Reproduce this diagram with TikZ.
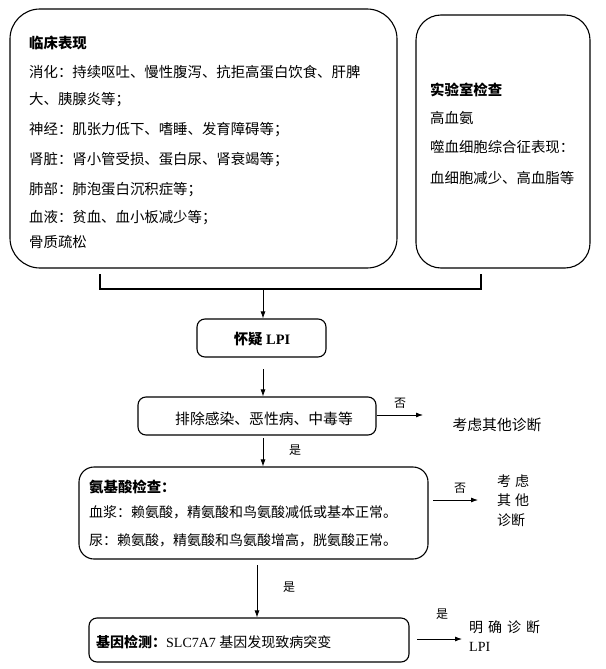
\documentclass[tikz,border=0pt]{standalone}
\usepackage{fontspec}
\setmainfont{Liberation Serif}
\newfontfamily\cjk{Noto Sans CJK SC}
\newfontfamily\lat{Liberation Serif}
\usetikzlibrary{arrows.meta}
\begin{document}
\begin{tikzpicture}[x=1pt,y=-1pt,
  box/.style={draw, line width=1.1pt, rounded corners=#1, inner sep=0pt},
  box/.default=8pt,
  txt/.style={anchor=west, inner sep=0pt, font=\cjk\fontsize{14}{16}\selectfont},
  btxt/.style={anchor=west, inner sep=0pt, font=\cjk\fontsize{14.4}{16}\selectfont},
  hd/.style={anchor=west, inner sep=0pt, font=\cjk\bfseries\fontsize{14.4}{16}\selectfont},
  ctxt/.style={inner sep=0pt, font=\cjk\fontsize{14.8}{17}\selectfont},
  lab/.style={inner sep=0pt, font=\cjk\fontsize{12}{14}\selectfont},
  arr/.style={-{Latex[length=7pt,width=5pt]}, line width=0.8pt},
  bracket/.style={line width=1.8pt}]
\useasboundingbox (0,0) rectangle (605,669);
% clinical box
\node[box=30pt, minimum width=387pt, minimum height=259pt] (clin) at (203.5,138.5) {};
\node[hd] (c0) at (29,43) {临床表现};
\node[btxt] (c1) at (29,72) {消化：持续呕吐、慢性腹泻、抗拒高蛋白饮食、肝脾};
\node[btxt] (c2) at (29,100) {大、胰腺炎等；};
\node[btxt] (c3) at (29,130) {神经：肌张力低下、嗜睡、发育障碍等；};
\node[btxt] (c4) at (29,160) {肾脏：肾小管受损、蛋白尿、肾衰竭等；};
\node[btxt] (c5) at (29,190) {肺部：肺泡蛋白沉积症等；};
\node[btxt] (c6) at (29,218) {血液：贫血、血小板减少等；};
\node[btxt] (c7) at (29,242) {骨质疏松};
% lab box
\node[box=25pt, minimum width=174pt, minimum height=253pt] (lab) at (503,141.5) {};
\node[hd] (l0) at (430,90) {实验室检查};
\node[btxt] (l1) at (430,118) {高血氨};
\node[btxt] (l2) at (430,147) {噬血细胞综合征表现：};
\node[btxt] (l3) at (430,178) {血细胞减少、高血脂等};
% bracket
\coordinate (bl) at (100,274);
\coordinate (br) at (481,274);
\coordinate (bm) at (263,289);
\draw[bracket] (bl) -- (bl |- bm) -- (br |- bm) -- (br);
% LPI
\node[box, minimum width=129pt, minimum height=38pt] (lpi) at (261.5,338) {};
\node[inner sep=0pt, font=\fontsize{14.4}{16}\selectfont] (lpit) at (262,339) {{\cjk\bfseries 怀疑} {\lat\bfseries LPI}};
\draw[arr] (bm) -- (bm |- lpi.north);
% exclusion
\coordinate (a2s) at (263,369);
\node[box, minimum width=238pt, minimum height=38pt] (excl) at (257,416) {};
\node[ctxt] (exclt) at (264,419) {排除感染、恶性病、中毒等};
\draw[arr] (a2s) -- (a2s |- excl.north);
\coordinate (n1) at (423,415);
\draw[arr] (excl.east |- n1) -- (n1);
\node[lab] (no1) at (400,403) {否};
\node[ctxt] (alt1) at (497,425) {考虑其他诊断};
% amino
\coordinate (a4s) at (263,438);
\node[box=15pt, minimum width=349pt, minimum height=92pt] (amino) at (253.5,513) {};
\draw[arr] (a4s) -- (a4s |- amino.north);
\node[lab] (yes1) at (295,450) {是};
\node[hd] (m0) at (89,487) {氨基酸检查：};
\node[txt] (m1) at (89,512) {血浆：赖氨酸，精氨酸和鸟氨酸减低或基本正常。};
\node[txt] (m2) at (89,540) {尿：赖氨酸，精氨酸和鸟氨酸增高，胱氨酸正常。};
\coordinate (a5s) at (433,500);
\coordinate (a5e) at (478,500);
\draw[arr] (a5s) -- (a5e);
\node[lab] (no2) at (460,488) {否};
\node[txt] (alt2a) at (497,481) {考\hspace{4pt}虑};
\node[txt] (alt2b) at (497,500) {其\hspace{4pt}他};
\node[txt] (alt2c) at (497,520) {诊断};
% gene
\coordinate (a6s) at (257,565);
\node[box, minimum width=320pt, minimum height=44pt] (gene) at (249,640) {};
\draw[arr] (a6s) -- (a6s |- gene.north);
\node[lab] (yes2) at (289,587) {是};
\node[anchor=west, inner sep=0pt, font=\fontsize{14}{16}\selectfont] (genet) at (96,642) {{\cjk\bfseries 基因检测：}{\lat SLC7A7} {\cjk 基因发现致病突变}};
\coordinate (a7s) at (417,639);
\coordinate (a7e) at (462,639);
\draw[arr] (a7s) -- (a7e);
\node[lab] (yes3) at (442,614) {是};
\node[txt] (fin1) at (469,627) {明\hspace{5pt}确\hspace{5pt}诊\hspace{5pt}断};
\node[anchor=west, inner sep=0pt, font=\lat\fontsize{14}{16}\selectfont] (fin2) at (469,647) {LPI};
\end{tikzpicture}
\end{document}
